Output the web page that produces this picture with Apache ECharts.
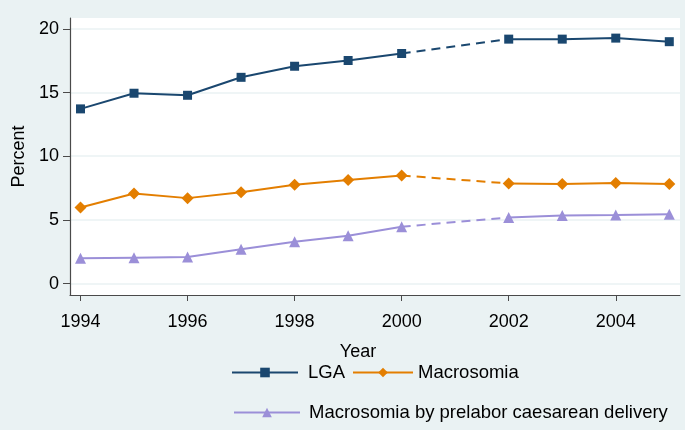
<!DOCTYPE html>
<html>
<head>
<meta charset="utf-8">
<script src="https://cdn.jsdelivr.net/npm/echarts@6/dist/echarts.min.js"></script>
<style>html,body{margin:0;padding:0;background:#eaf2f3;}#c{width:685px;height:430px;}</style>
</head>
<body>
<div id="c"></div>
<script>
var years = [1994, 1995, 1996, 1997, 1998, 1999, 2000, 2001, 2002, 2003, 2004, 2005];
var lga = [13.72, 14.95, 14.79, 16.2, 17.07, 17.52, 18.07, null, 19.2, 19.2, 19.28, 19.0];
var macrosomia = [5.97, 7.07, 6.71, 7.18, 7.76, 8.13, 8.49, null, 7.86, 7.81, 7.89, 7.81];
var prelabor = [1.98, 2.03, 2.09, 2.69, 3.29, 3.76, 4.47, null, 5.18, 5.34, 5.39, 5.45];
var xTicks = [1994, 1996, 1998, 2000, 2002, 2004];
var yTicks = [0, 5, 10, 15, 20];
var names = ['LGA', 'Macrosomia', 'Macrosomia by prelabor caesarean delivery'];
var colors = ['#1a476f', '#e37e00', '#9b8fd8'];
var symbols = ['rect', 'diamond', 'triangle'];
var symbolSizes = [9, 12, 11];

var FONT = 'Liberation Sans, Arial, sans-serif';

function solidData(vals) {
  return years.map(function (y, i) { return [y, vals[i] == null ? '-' : vals[i]]; });
}
function gapData(vals) {
  var out = [];
  for (var i = 0; i < vals.length; i++) {
    if (vals[i] == null) {
      out.push([years[i - 1], vals[i - 1]]);
      out.push([years[i + 1], vals[i + 1]]);
    }
  }
  return out;
}
var allVals = [lga, macrosomia, prelabor];
var series = [];
allVals.forEach(function (vals, k) {
  series.push({
    name: names[k] + ' gap', type: 'line', data: gapData(vals), symbol: 'none',
    lineStyle: { color: colors[k], width: 2, type: [9, 6] }, z: 2, silent: true
  });
});
allVals.forEach(function (vals, k) {
  series.push({
    name: names[k], type: 'line', data: solidData(vals), connectNulls: false,
    symbol: symbols[k], symbolSize: symbolSizes[k],
    itemStyle: { color: colors[k] },
    lineStyle: { color: colors[k], width: 2 }, z: 3
  });
});

function legendAt(name, left, top, w, pad) {
  return {
    data: [name], left: left, top: top, orient: 'horizontal', padding: 0,
    itemWidth: w, itemHeight: 12, selectedMode: false,
    textStyle: { fontFamily: FONT, fontSize: 18.5, color: '#000', padding: [0, 0, 0, pad] }
  };
}

var chart = echarts.init(document.getElementById('c'), null, { renderer: 'canvas' });
chart.setOption({
  backgroundColor: '#eaf2f3',
  animation: false,
  grid: { left: 70, right: 5, top: 18, bottom: 135, show: true, backgroundColor: '#ffffff', borderWidth: 0 },
  xAxis: {
    type: 'value', min: 1993.804, max: 2005.2,
    name: 'Year', nameLocation: 'middle', nameGap: 48,
    nameTextStyle: { fontFamily: FONT, fontSize: 18, color: '#000', padding: [0, 34, 0, 0] },
    axisLine: { show: true, onZero: false, lineStyle: { color: '#4a4a4a', width: 1.2 } },
    axisTick: { show: true, length: 6, customValues: xTicks, lineStyle: { color: '#4a4a4a' } },
    axisLabel: { customValues: xTicks, formatter: function (v) { return String(v); }, fontFamily: FONT, fontSize: 18, color: '#000', margin: 18 },
    splitLine: { show: false }
  },
  yAxis: {
    type: 'value', min: -0.9, max: 20.86,
    name: 'Percent', nameLocation: 'middle', nameGap: 41, nameRotate: 90,
    nameTextStyle: { fontFamily: FONT, fontSize: 18, color: '#000' },
    axisLine: { show: true, onZero: false, lineStyle: { color: '#4a4a4a', width: 1.2 } },
    axisTick: { show: true, length: 7, customValues: yTicks, lineStyle: { color: '#4a4a4a' } },
    axisLabel: { customValues: yTicks, fontFamily: FONT, fontSize: 18, color: '#000', margin: 11 },
    splitLine: { show: true, lineStyle: { color: '#eaf2f3', width: 1.5 } }
  },
  legend: [
    legendAt(names[0], 231, 363, 66, 5),
    legendAt(names[1], 352, 363, 60, 0),
    legendAt(names[2], 233, 403, 66, 4)
  ],
  series: series
});
</script>
</body>
</html>
